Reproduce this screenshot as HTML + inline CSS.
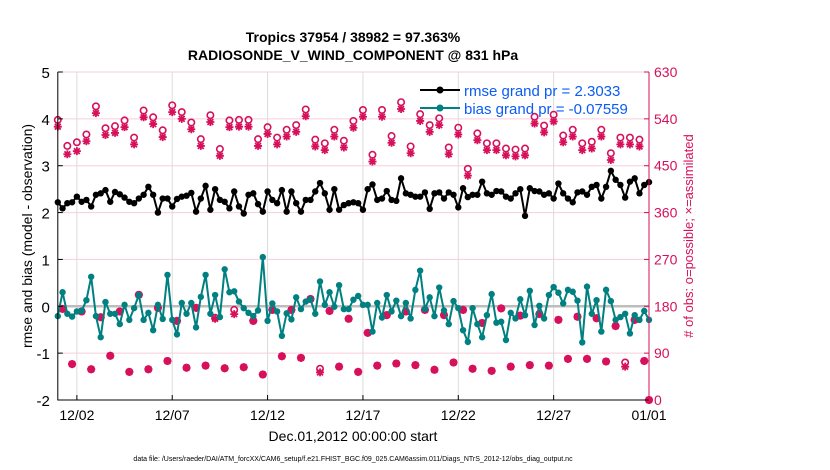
<!DOCTYPE html>
<html><head><meta charset="utf-8"><style>
body{margin:0;background:#fff;font-family:"Liberation Sans",sans-serif}
svg{display:block}
</style></head><body>
<svg id="chart" width="830" height="470" xmlns="http://www.w3.org/2000/svg">
<rect width="830" height="470" fill="#fff"/>
<text x="353" y="42" text-anchor="middle" font-size="14" font-weight="bold">Tropics 37954 / 38982 = 97.363%</text>
<text x="353" y="60" text-anchor="middle" font-size="14" font-weight="bold">RADIOSONDE_V_WIND_COMPONENT @ 831 hPa</text>
<g id="grid"></g>
<g id="marks"></g>
<g id="axes"></g>
<text transform="translate(32,236) rotate(-90)" text-anchor="middle" font-size="14">rmse and bias (model - observation)</text>
<text transform="translate(693,236) rotate(-90)" text-anchor="middle" font-size="13" fill="#d6105a"># of obs: o=possible; ×=assimilated</text>
<text x="353" y="441" text-anchor="middle" font-size="14">Dec.01,2012 00:00:00 start</text>
<text x="353" y="461" text-anchor="middle" font-size="7">data file: /Users/raeder/DAI/ATM_forcXX/CAM6_setup/f.e21.FHIST_BGC.f09_025.CAM6assim.011/Diags_NTrS_2012-12/obs_diag_output.nc</text>
<g id="legend">
<line x1="420" y1="90" x2="460" y2="90" stroke="#000" stroke-width="2"/><circle cx="440" cy="90" r="3.5" fill="#000"/>
<text x="464" y="96" font-size="15" fill="#0a5cf5">rmse grand pr = 2.3033</text>
<line x1="420" y1="108" x2="460" y2="108" stroke="#008080" stroke-width="2"/><circle cx="440" cy="108" r="3.5" fill="#008080"/>
<text x="464" y="114" font-size="15" fill="#0a5cf5">bias grand pr = -0.07559</text>
</g>
</svg>
<script>
const xTickLabels=["12/02","12/07","12/12","12/17","12/22","12/27","01/01"];
const xTickDays=[1,6,11,16,21,26,31];
const yTicks=[-2,-1,0,1,2,3,4,5];
const y2Ticks=[0,90,180,270,360,450,540,630];
const rmse=[2.22,2.09,2.20,2.22,2.34,2.23,2.27,2.13,2.38,2.41,2.48,2.23,2.44,2.39,2.32,2.23,2.20,2.30,2.38,2.55,2.38,2.00,2.30,2.30,2.13,2.29,2.34,2.36,2.42,2.02,2.30,
2.57,2.06,2.50,2.27,2.23,2.09,2.45,2.13,1.98,2.38,2.41,2.18,2.02,2.45,2.27,2.20,2.48,2.02,2.45,2.20,2.02,2.27,2.27,2.45,2.63,2.41,2.06,2.50,2.06,2.16,
2.20,2.22,2.20,2.06,2.50,2.60,2.27,2.30,2.46,2.27,2.25,2.73,2.41,2.38,2.34,2.34,2.43,2.08,2.41,2.43,2.30,2.43,2.38,2.11,2.52,2.33,2.38,2.38,2.66,2.41,2.38,
2.46,2.45,2.34,2.30,2.41,2.50,1.93,2.52,2.46,2.45,2.38,2.41,2.30,2.62,2.41,2.30,2.22,2.43,2.45,2.38,2.55,2.59,2.30,2.55,2.89,2.70,2.59,2.32,2.66,2.73,2.41,2.59,2.65];
const bias=[-0.21,0.30,-0.16,-0.22,-0.11,-0.10,0.13,0.63,-0.21,-0.66,0.09,-0.16,-0.16,-0.38,0.03,-0.29,-0.04,0.24,-0.29,-0.14,-0.51,0.03,-0.27,0.67,-0.29,-0.60,0.07,-0.16,0.07,-0.45,0.20,
0.67,-0.16,0.24,-0.23,0.79,0.30,0.32,0.10,-0.04,-0.14,-0.21,-0.09,1.05,-0.31,0.06,-0.11,-0.63,-0.15,-0.28,0.19,-0.06,0.10,0.15,-0.16,0.53,0.03,0.30,-0.01,0.45,-0.06,
-0.06,0.14,0.22,0.03,0.03,-0.54,0.07,-0.24,0.24,-0.11,0.12,-0.21,0.07,-0.26,0.35,0.76,-0.06,0.19,-0.21,0.40,-0.09,-0.38,0.11,-0.04,-0.51,-0.76,-0.04,-0.38,-0.66,-0.19,0.26,
-0.35,-0.33,-0.72,-0.14,-0.26,0.15,-0.19,0.33,-0.40,0.01,-0.26,0.24,0.41,0.29,0.06,0.35,0.31,0.12,-0.77,0.42,-0.16,0.13,-0.54,0.35,0.11,-0.29,-0.23,-0.16,-0.58,-0.19,-0.29,-0.10,-0.29];
const obsAssim=[525,175,472,69, 478,170,497,59, 551,159,509,85, 513,170,524,54, 491,202,543,59, 530,177,505,75, 553,152,540,62, 520,177,488,66,
534,156,469,61, 524,165,525,63, 525,152,488,49, 511,173,491,84, 506,173,515,81, 545,194,487,53, 480,171,506,64, 485,156,523,54,
544,129,458,66, 544,163,494,70, 559,170,474,67, 536,173,515,58, 528,163,472,72, 510,173,431,60, 499,148,480,56, 480,176,470,64,
468,162,470,67, 531,165,514,66, 535,154,495,79, 506,160,480,79, 483,157,506,74, 461,142,491,64, 491,154,487,75, 0];
const obsPossible=[538,175,488,69, 495,170,510,59, 564,159,522,85, 526,170,537,54, 504,202,556,59, 543,177,518,75, 566,152,553,62, 533,177,501,66,
547,158,482,61, 537,173,538,63, 538,152,501,49, 524,173,504,84, 519,173,528,81, 558,194,500,60, 493,171,519,64, 498,156,536,54,
557,129,471,66, 557,163,507,70, 572,170,487,67, 549,173,528,58, 541,163,485,72, 523,173,444,60, 512,148,493,56, 493,176,483,64,
481,162,483,67, 544,165,527,66, 548,154,508,79, 519,160,493,79, 496,157,519,74, 474,142,504,72, 504,154,500,75, 0];

const NS="http://www.w3.org/2000/svg";
const L=57.8,R=649,T=72,B=400;
const dayW=(R-L)/31;
function xScale(i){return L+i*dayW/4;}
function xDay(d){return L+d*dayW;}
function yScale(v){return T+(5-v)*(B-T)/7;}
function y2Scale(c){return B-c*(B-T)/630;}
function mk(tag,attrs,parent){const e=document.createElementNS(NS,tag);for(const k in attrs)e.setAttribute(k,attrs[k]);parent.appendChild(e);return e;}
const grid=document.getElementById('grid'),marks=document.getElementById('marks'),axes=document.getElementById('axes');
const RED="#d6105a";
yTicks.forEach(v=>{const y=yScale(v);
 const g=mk('line',{x1:L,x2:R,y1:y,y2:y,stroke:'#f6cfdc','stroke-width':1},grid);
 
 
 const tk=mk('line',{x1:L,x2:L+5,y1:y,y2:y,stroke:'#000'},axes);
 
 
 const t=mk('text',{x:L-8,y:y+6,'text-anchor':'end','font-size':15},axes);t.textContent=v;
 
 
});
y2Ticks.forEach(c=>{const y=y2Scale(c);
 const tk=mk('line',{x1:R-5,x2:R,y1:y,y2:y,stroke:RED},axes);
 
 
 const t=mk('text',{x:R+5,y:y+5,'font-size':14,fill:RED},axes);t.textContent=c;
 
 
});
xTickDays.forEach((d,k)=>{const x=xDay(d);
 const g=mk('line',{x1:x,x2:x,y1:T,y2:B,stroke:'#dcdcdc'},grid);
 
 
 const tk=mk('line',{x1:x,x2:x,y1:B-5,y2:B,stroke:'#000'},axes);
 
 
 const t=mk('text',{x:x,y:B+20,'text-anchor':'middle','font-size':14},axes);t.textContent=xTickLabels[k];
 
 
});
const zl=mk('line',{x1:L,x2:R,y1:yScale(0),y2:yScale(0),stroke:'#bdbdbd','stroke-width':2.5},grid);


const ab=mk('path',{d:`M${L},${T}V${B}H${R}`,fill:'none',stroke:'#000','stroke-width':1},axes);


const ra=mk('line',{x1:R,x2:R,y1:T,y2:B,stroke:RED},axes);


obsPossible.forEach((c,i)=>{
 const o=mk('circle',{cx:xScale(i),cy:y2Scale(c),r:3.2,fill:'none',stroke:RED,'stroke-width':1.6},marks);
 
 
});
obsAssim.forEach((c,i)=>{
 const x=xScale(i),y=y2Scale(c),s=4,d=2.9;
 const a=mk('path',{d:`M${x-s},${y}H${x+s}M${x},${y-s}V${y+s}M${x-d},${y-d}L${x+d},${y+d}M${x-d},${y+d}L${x+d},${y-d}`,stroke:RED,'stroke-width':1.8},marks);
 
 
});
function series(vals,color,name){
 const p=mk('polyline',{points:vals.map((v,i)=>xScale(i)+','+yScale(v)).join(' '),fill:'none',stroke:color,'stroke-width':2},marks);
 
 
 vals.forEach((v,i)=>{
  const c=mk('circle',{cx:xScale(i),cy:yScale(v),r:3.2,fill:color},marks);
  
  
 });
}
series(bias,'#008080','bias');
series(rmse,'#000','rmse');
</script>
</body></html>
